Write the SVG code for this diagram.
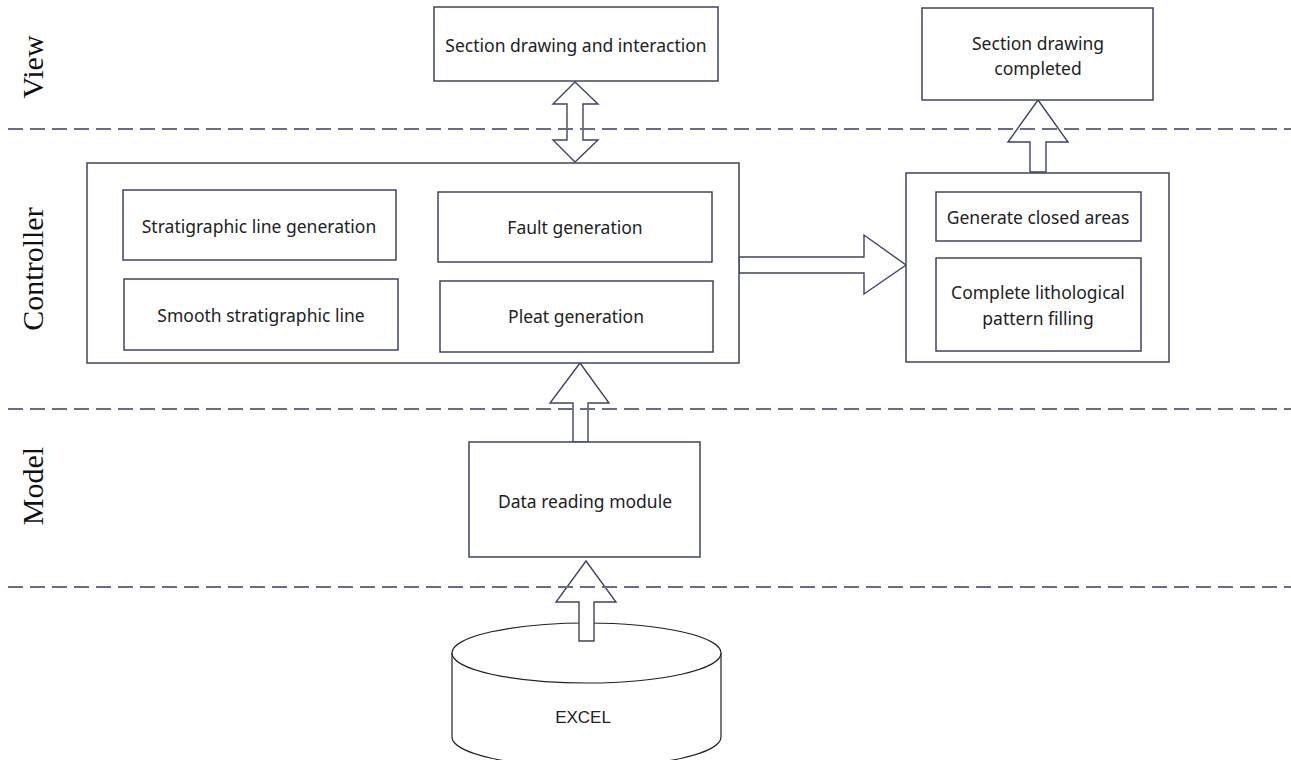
<svg xmlns="http://www.w3.org/2000/svg" width="1291" height="760" viewBox="0 0 1291 760">
  <style>
    .box { fill: #ffffff; stroke: #3f4463; stroke-width: 1.5; }
    .lbl { font-family: "Noto Sans", "Open Sans", sans-serif; font-size: 17.5px; fill: #222222; text-anchor: middle; }
    .layer { font-family: "Liberation Serif", "Times New Roman", serif; font-size: 30px; fill: #111111; text-anchor: middle; }
    .sep { stroke: #686c8a; stroke-width: 1.8; stroke-dasharray: 15 7; fill: none; }
    .arrow { fill: #ffffff; stroke: #3f4463; stroke-width: 1.4; stroke-linejoin: miter; }
    .db { fill: #ffffff; stroke: #222222; stroke-width: 1.2; }
  </style>

  <rect width="1291" height="760" fill="#ffffff"/>

  <!-- layer names -->
  <g id="layer-labels">
    <text class="layer" transform="translate(43,67) rotate(-90)">View</text>
    <text class="layer" transform="translate(43,269) rotate(-90)" font-size="31">Controller</text>
    <text class="layer" transform="translate(43,486) rotate(-90)">Model</text>
  </g>

  <!-- data source -->
  <g id="excel">
    <path class="db" d="M452,653 L452,737 A134.5,30 0 0 0 721,737 L721,653"/>
    <ellipse class="db" cx="586.5" cy="653" rx="134.5" ry="30"/>
    <text x="583" y="723" font-family="Liberation Sans, Arial, sans-serif" font-size="17" fill="#222222" text-anchor="middle">EXCEL</text>
  </g>

  <!-- block arrows between modules -->
  <g id="connectors">
    <path class="arrow" d="M575,82 L598,104 L583,104 L583,140 L598,140 L575,162 L553,140 L567,140 L567,104 L553,104 Z"/>
    <path class="arrow" d="M1038,100 L1068,142 L1046,142 L1046,172 L1030,172 L1030,142 L1008,142 Z"/>
    <path class="arrow" d="M739,257 L864,257 L864,235 L906,265 L864,294 L864,273 L739,273 Z"/>
    <path class="arrow" d="M580,363 L609,403 L588,403 L588,442 L573,442 L573,403 L550,403 Z"/>
    <path class="arrow" d="M586,561 L616,602 L594,602 L594,641 L579,641 L579,602 L556,602 Z"/>
  </g>

  <!-- view layer -->
  <g id="view-interaction">
    <rect class="box" x="434" y="7" width="284" height="74"/>
    <text class="lbl" x="576" y="52">Section drawing and interaction</text>
  </g>
  <g id="view-completed">
    <rect class="box" x="922" y="8" width="231" height="92"/>
    <text class="lbl" x="1038" y="50">Section drawing</text>
    <text class="lbl" x="1038" y="75">completed</text>
  </g>

  <!-- controller layer -->
  <g id="controller">
    <rect class="box" x="87" y="163" width="652" height="200"/>
  </g>
  <g id="stratigraphic-line">
    <rect class="box" x="123" y="190" width="273" height="70"/>
    <text class="lbl" x="259" y="233">Stratigraphic line generation</text>
  </g>
  <g id="fault">
    <rect class="box" x="438" y="192" width="274" height="70"/>
    <text class="lbl" x="575" y="234">Fault generation</text>
  </g>
  <g id="smooth-line">
    <rect class="box" x="124" y="279" width="274" height="71"/>
    <text class="lbl" x="261" y="322">Smooth stratigraphic line</text>
  </g>
  <g id="pleat">
    <rect class="box" x="440" y="281" width="273" height="71"/>
    <text class="lbl" x="576" y="323">Pleat generation</text>
  </g>

  <g id="filling">
    <rect class="box" x="906" y="173" width="263" height="189"/>
  </g>
  <g id="closed-areas">
    <rect class="box" x="936" y="192" width="205" height="49"/>
    <text class="lbl" x="1038" y="224">Generate closed areas</text>
  </g>
  <g id="lithology">
    <rect class="box" x="936" y="258" width="205" height="93"/>
    <text class="lbl" x="1038" y="299">Complete lithological</text>
    <text class="lbl" x="1038" y="325">pattern filling</text>
  </g>

  <!-- model layer -->
  <g id="data-reading">
    <rect class="box" x="469" y="442" width="231" height="115"/>
    <text class="lbl" x="585" y="508">Data reading module</text>
  </g>

  <!-- layer separators -->
  <g id="separators">
    <line class="sep" x1="8" y1="129" x2="1291" y2="129"/>
    <line class="sep" x1="8" y1="409" x2="1291" y2="409"/>
    <line class="sep" x1="8" y1="587" x2="1291" y2="587"/>
  </g>
</svg>
